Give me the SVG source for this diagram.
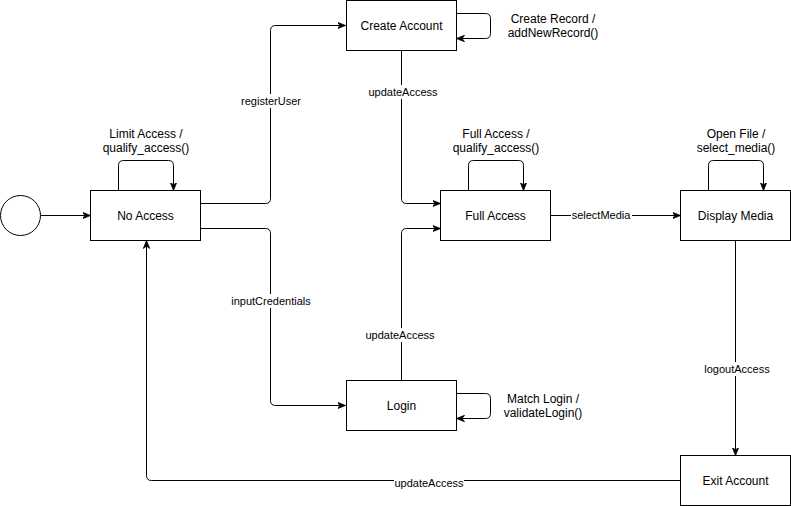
<svg xmlns="http://www.w3.org/2000/svg" width="791" height="506" viewBox="0 0 791 506">
  <style>
    .node rect, .node circle { fill: #ffffff; stroke: #000000; stroke-width: 1; }
    .node text { font-family: "Liberation Sans", Arial, sans-serif; font-size: 12px; fill: #000000; text-anchor: middle; dominant-baseline: central; }
    .edge { fill: none; stroke: #000000; stroke-width: 1; }
    .arrow { marker-end: url(#head); }
    .lbl { font-family: "Liberation Sans", Arial, sans-serif; font-size: 11px; fill: #000000; text-anchor: middle; dominant-baseline: central; }
    .act { font-family: "Liberation Sans", Arial, sans-serif; font-size: 12px; fill: #000000; text-anchor: middle; dominant-baseline: central; }
    .bg { fill: #ffffff; }
  </style>
  <defs>
    <marker id="head" viewBox="0 0 10 10" refX="10" refY="5" markerWidth="8" markerHeight="8" orient="auto" markerUnits="userSpaceOnUse">
      <path d="M0,1 L10,5 L0,9 L3,5 z" fill="#000000" stroke="#000000" stroke-width="1"/>
    </marker>
  </defs>

  <rect width="791" height="506" fill="#ffffff"/>

  <!-- transitions -->
  <g id="connectors">
    <path class="edge arrow" d="M40.5,215.5 H90.5"/>
    <path class="edge arrow" d="M200.5,203.5 H265.5 Q270.5,203.5 270.5,198.5 V30.5 Q270.5,25.5 275.5,25.5 H345.5"/>
    <path class="edge arrow" d="M200.5,228.5 H265.5 Q270.5,228.5 270.5,233.5 V400.5 Q270.5,405.5 275.5,405.5 H345.5"/>
    <path class="edge arrow" d="M118.5,190.5 V165.5 Q118.5,160.5 123.5,160.5 H168.5 Q173.5,160.5 173.5,165.5 V190.5"/>
    <path class="edge arrow" d="M456.5,13.5 H485.5 Q490.5,13.5 490.5,18.5 V33.5 Q490.5,38.5 485.5,38.5 H456.5"/>
    <path class="edge arrow" d="M401.5,50.5 V198.5 Q401.5,203.5 406.5,203.5 H440.5"/>
    <path class="edge arrow" d="M401.5,380.5 V233.5 Q401.5,228.5 406.5,228.5 H440.5"/>
    <path class="edge arrow" d="M468.5,190.5 V165.5 Q468.5,160.5 473.5,160.5 H518.5 Q523.5,160.5 523.5,165.5 V190.5"/>
    <path class="edge arrow" d="M550.5,215.5 H680.5"/>
    <path class="edge arrow" d="M708.5,190.5 V165.5 Q708.5,160.5 713.5,160.5 H758.5 Q763.5,160.5 763.5,165.5 V190.5"/>
    <path class="edge arrow" d="M735.5,240.5 V455.5"/>
    <path class="edge arrow" d="M456.5,393.5 H485.5 Q490.5,393.5 490.5,398.5 V413.5 Q490.5,418.5 485.5,418.5 H456.5"/>
    <path class="edge arrow" d="M680.5,480.5 H151.5 Q146.5,480.5 146.5,475.5 V240.5"/>

    <!-- transition labels -->
    <rect class="bg" x="241" y="94" width="62" height="14"/>
    <text class="lbl" x="271" y="101">registerUser</text>
    <rect class="bg" x="232" y="294" width="78" height="14"/>
    <text class="lbl" x="271" y="301">inputCredentials</text>
    <rect class="bg" x="368" y="85" width="70" height="14"/>
    <text class="lbl" x="403" y="92">updateAccess</text>
    <rect class="bg" x="365" y="328" width="70" height="14"/>
    <text class="lbl" x="400" y="335">updateAccess</text>
    <rect class="bg" x="571" y="208" width="61" height="14"/>
    <text class="lbl" x="601" y="215">selectMedia</text>
    <rect class="bg" x="704" y="362" width="66" height="14"/>
    <text class="lbl" x="737" y="369">logoutAccess</text>
    <rect class="bg" x="394" y="476" width="70" height="14"/>
    <text class="lbl" x="429" y="483">updateAccess</text>

    <!-- self-transition actions -->
    <text class="act" x="146" y="134">Limit Access /</text>
    <text class="act" x="146" y="148">qualify_access()</text>
    <text class="act" x="553" y="19">Create Record /</text>
    <text class="act" x="553" y="33">addNewRecord()</text>
    <text class="act" x="496" y="134">Full Access /</text>
    <text class="act" x="496" y="148">qualify_access()</text>
    <text class="act" x="736" y="134">Open File /</text>
    <text class="act" x="736" y="148">select_media()</text>
    <text class="act" x="543" y="399">Match Login /</text>
    <text class="act" x="543" y="413">validateLogin()</text>
  </g>

  <!-- states -->
  <g id="start" class="node">
    <circle cx="20.5" cy="215.5" r="20"/>
  </g>
  <g id="no-access" class="node">
    <rect x="90.5" y="190.5" width="110" height="50"/>
    <text x="145.5" y="215.5">No Access</text>
  </g>
  <g id="create-account" class="node">
    <rect x="346.5" y="0.5" width="110" height="50"/>
    <text x="401.5" y="25.5">Create Account</text>
  </g>
  <g id="full-access" class="node">
    <rect x="440.5" y="190.5" width="110" height="50"/>
    <text x="495.5" y="215.5">Full Access</text>
  </g>
  <g id="display-media" class="node">
    <rect x="680.5" y="190.5" width="110" height="50"/>
    <text x="735.5" y="215.5">Display Media</text>
  </g>
  <g id="login" class="node">
    <rect x="346.5" y="380.5" width="110" height="50"/>
    <text x="401.5" y="405.5">Login</text>
  </g>
  <g id="exit-account" class="node">
    <rect x="680.5" y="455.5" width="110" height="50"/>
    <text x="735.5" y="480.5">Exit Account</text>
  </g>
</svg>
